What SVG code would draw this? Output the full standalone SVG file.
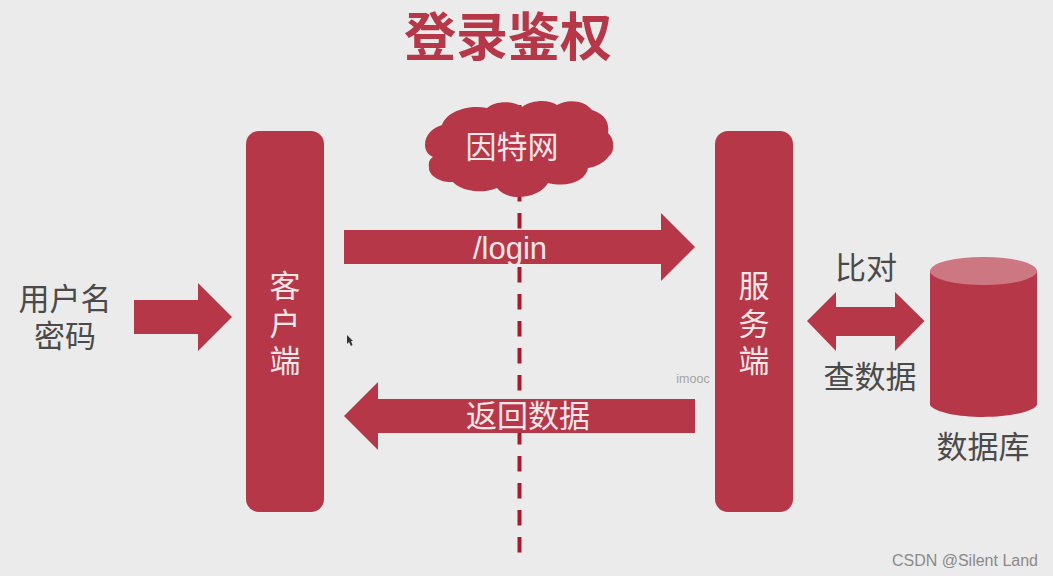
<svg xmlns="http://www.w3.org/2000/svg" width="1053" height="576" viewBox="0 0 1053 576">
<style>
.r{fill:#b63848}
.t{font-family:"Liberation Sans","Noto Sans CJK SC",sans-serif;font-size:31px;text-anchor:middle}
.w{fill:#f3e6e8}
.d{fill:#4a4a4a}
</style>
<rect width="1053" height="576" fill="#ebebeb"/>
<text id="title" x="508" y="56" class="t r" style="font-size:52px;font-weight:700">登录鉴权</text>
<g id="connectors">
<line x1="519.500" y1="105" x2="519.500" y2="553" stroke="#a8192c" stroke-width="4" stroke-dasharray="15.500 11.500"/>
<path id="a-user" class="r" d="M134 300H198V283L232 317L198 351V334H134Z"/>
<path id="a-login" class="r" d="M344 230H661V213L695 247L661 281V264H344Z"/>
<path id="a-back" class="r" d="M695 399H378V382L344 416L378 450V433H695Z"/>
<path id="a-db" class="r" d="M807 321L836 292V307H895V292L924.500 321L895 351V336H836V351Z"/>
</g>
<g id="client"><rect class="r" x="246" y="131" width="78" height="381" rx="13"/>
<text class="t w"><tspan x="285" y="297">客</tspan><tspan x="285" y="335">户</tspan><tspan x="285" y="372">端</tspan></text></g>
<g id="server"><rect class="r" x="715" y="131" width="78" height="381" rx="13"/>
<text class="t w"><tspan x="754" y="297">服</tspan><tspan x="754" y="335">务</tspan><tspan x="754" y="372">端</tspan></text></g>
<g id="cloud"><path class="r" d="M425 145C425 134 433 128 442 125C446 112 468 104 487 108C495 101 512 100 522 107C532 100 548 99 557 105C568 98 586 101 592 110C602 113 610 120 608 133C615 139 615 152 609 156C604 163 596 167 588 168C586 180 570 188 548 183C540 198 508 203 497 188C480 195 460 190 453 182C440 183 428 175 429 167C428 162 430 159 433 157C428 155 425 150 425 145Z"/>
<text class="t w" x="512" y="158">因特网</text></g>
<g id="database"><path class="r" d="M930 271V405C934 412 958 417 983 417C1008 417 1033 412 1037 405V271Z"/>
<ellipse cx="983.500" cy="271" rx="53.500" ry="14" fill="#cc7782"/>
<text class="t d" x="983" y="458">数据库</text></g>
<text id="l-user" class="t d"><tspan x="65" y="310">用户名</tspan><tspan x="65" y="347">密码</tspan></text>
<text id="l-login" class="t w" x="510" y="259">/login</text>
<text id="l-back" class="t w" x="528" y="427">返回数据</text>
<text id="l-cmp" class="t d" x="866" y="279">比对</text>
<text id="l-query" class="t d" x="870" y="388">查数据</text>
<text id="wm1" x="693" y="383" style="font-family:'Liberation Sans',sans-serif;font-size:12.500px;text-anchor:middle" fill="#a3a3a3">imooc</text>
<path id="cursor" d="M347 335L347 344L349 342L351 346L352.500 345L351 341L353 341Z" fill="#333"/>
<text id="wm2" x="1038" y="566" style="font-family:'Liberation Sans',sans-serif;font-size:16px;text-anchor:end" fill="#8a8a8a">CSDN @Silent Land</text>
</svg>
